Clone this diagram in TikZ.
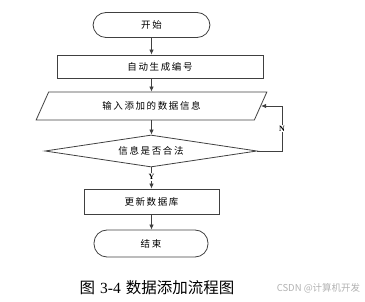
\documentclass[tikz,border=0pt]{standalone}
\usepackage{fontspec}
\setmainfont{Noto Sans CJK SC}
\newfontfamily\boxfont[LetterSpace=17]{Noto Sans CJK SC}
\newfontfamily\latinserif{Liberation Serif}
\usetikzlibrary{arrows.meta,shapes.geometric}
\begin{document}
\begin{tikzpicture}[
x=1pt,y=-1pt,
every node/.style={draw=black!75,line width=0.8pt,inner sep=0pt,font=\boxfont\fontsize{9.5}{11}\selectfont},
term/.style={rectangle,rounded corners=13pt},
proc/.style={rectangle},
io/.style={trapezium,trapezium left angle=56,trapezium right angle=124,trapezium stretches=true},
test/.style={diamond,aspect=6.6},
yn/.style={draw=none,fill=white,inner sep=1pt,font=\latinserif\bfseries\fontsize{8}{9}\selectfont},
arr/.style={draw=black!75,line width=0.8pt,-{Latex[length=5pt,width=4.5pt]}}
]
\useasboundingbox (0,0) rectangle (365,302);
\node[term,minimum width=117pt,minimum height=25pt](start) at (151.5,25){开始};
\node[proc,minimum width=206pt,minimum height=23pt](gen) at (160,66.5){自动生成编号};
\node[io,minimum width=231pt,minimum height=28pt](input) at (151.5,106){输入添加的数据信息};
\node[test,minimum width=212pt,minimum height=32pt](check) at (151,151){信息是否合法};
\node[proc,minimum width=135pt,minimum height=25pt](upd) at (151.5,201.5){更新数据库};
\node[term,minimum width=114pt,minimum height=27pt](stop) at (151,243.5){结束};
\coordinate(turn) at (282,151);
\draw[arr] (start.south) -- (start.south |- gen.north);
\draw[arr] (start.south |- gen.south) -- (start.south |- input.north);
\draw[arr] (start.south |- input.south) -- (start.south |- check.north);
\draw[arr] (start.south |- check.south) -- node[yn,pos=0.45]{Y} (start.south |- upd.north);
\draw[arr] (start.south |- upd.south) -- (start.south |- stop.north);
\draw[arr] (check.east) -- (turn) |- node[yn,pos=0.25]{N} (input.east);
\node[draw=none,font=\fontsize{15.5}{17}\selectfont] (cap) at (157,288){图\hspace{5pt}{\latinserif 3-4}\hspace{5pt}数据添加流程图};
\node[draw=none,text=black!30,font=\fontsize{9.5}{11}\selectfont] (mark) at (318.5,288){CSDN @计算机开发};
\end{tikzpicture}
\end{document}
